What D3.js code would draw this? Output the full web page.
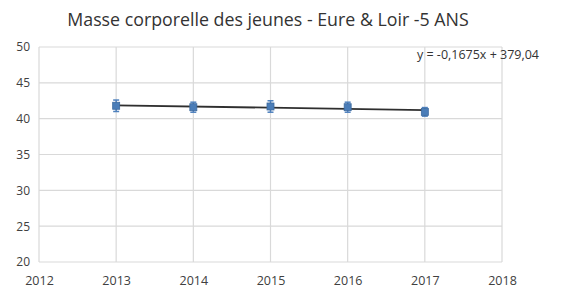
<!DOCTYPE html>
<html>
<head>
<meta charset="utf-8">
<script src="https://cdn.jsdelivr.net/npm/d3@7"></script>
<style>
  body { margin: 0; background: #fff; }
  text { font-family: "Open Sans", "Noto Sans", sans-serif; }
</style>
</head>
<body>
<div id="chart"></div>
<script>
const TITLE = "Masse corporelle des jeunes - Eure & Loir -5 ANS";
const years = [2013, 2014, 2015, 2016, 2017];
const masses = [41.8, 41.6, 41.7, 41.6, 40.95];
const errors = [0.8, 0.7, 0.8, 0.7, 0.6];
const xTicks = [2012, 2013, 2014, 2015, 2016, 2017, 2018];
const yTicks = [20, 25, 30, 35, 40, 45, 50];
const slope = -0.1675;
const intercept = 379.04;
const equation = "y = -0,1675x + 379,04";

const width = 581;
const height = 288;
const margin = { top: 47, right: 79, bottom: 26, left: 39 };

const svg = d3.select("#chart").append("svg")
  .attr("width", width)
  .attr("height", height);

const x = d3.scaleLinear().domain([2012, 2018]).range([margin.left, width - margin.right]);
const y = d3.scaleLinear().domain([20, 50]).range([height - margin.bottom, margin.top]);

svg.append("text")
  .attr("x", 268)
  .attr("y", 26)
  .attr("text-anchor", "middle")
  .style("font-size", "17.8px")
  .attr("fill", "#333")
  .text(TITLE);

// gridlines
svg.append("g")
  .selectAll("line")
  .data(yTicks)
  .join("line")
  .attr("x1", x(2012)).attr("x2", x(2018))
  .attr("y1", d => y(d)).attr("y2", d => y(d))
  .attr("stroke", "#d9d9d9")
  .attr("stroke-width", 1.2);

svg.append("g")
  .selectAll("line")
  .data(xTicks)
  .join("line")
  .attr("x1", d => x(d)).attr("x2", d => x(d))
  .attr("y1", y(20)).attr("y2", y(50))
  .attr("stroke", "#d9d9d9")
  .attr("stroke-width", 1.2);

// axes labels
const yAxis = svg.append("g")
  .attr("transform", `translate(${margin.left - 9},0)`)
  .call(d3.axisLeft(y).tickValues(yTicks).tickSize(0).tickPadding(0));
yAxis.select(".domain").remove();
yAxis.selectAll("text").style("font-size", "12px").attr("fill", "#404040")
  .style("font-family", "'Open Sans', sans-serif");

const xAxis = svg.append("g")
  .attr("transform", `translate(0,${height - margin.bottom + 14})`)
  .call(d3.axisBottom(x).tickValues(xTicks).tickFormat(d3.format("d")).tickSize(0).tickPadding(0));
xAxis.select(".domain").remove();
xAxis.selectAll("text").style("font-size", "12.5px").attr("fill", "#404040")
  .style("font-family", "'Open Sans', sans-serif");

// trend line
svg.append("line")
  .attr("x1", x(years[0]))
  .attr("y1", y(slope * years[0] + intercept))
  .attr("x2", x(years[years.length - 1]))
  .attr("y2", y(slope * years[years.length - 1] + intercept))
  .attr("stroke", "#2f2f2f")
  .attr("stroke-width", 1.8);

// error bars
const pts = svg.append("g")
  .selectAll("g")
  .data(years.map((yr, i) => ({ yr, m: masses[i], e: errors[i] })))
  .join("g");

pts.append("line")
  .attr("x1", d => x(d.yr)).attr("x2", d => x(d.yr))
  .attr("y1", d => y(d.m - d.e)).attr("y2", d => y(d.m + d.e))
  .attr("stroke", "#4f81bd").attr("stroke-width", 1.5);
pts.append("line")
  .attr("x1", d => x(d.yr) - 3).attr("x2", d => x(d.yr) + 3)
  .attr("y1", d => y(d.m + d.e)).attr("y2", d => y(d.m + d.e))
  .attr("stroke", "#4f81bd").attr("stroke-width", 1.5);
pts.append("line")
  .attr("x1", d => x(d.yr) - 3).attr("x2", d => x(d.yr) + 3)
  .attr("y1", d => y(d.m - d.e)).attr("y2", d => y(d.m - d.e))
  .attr("stroke", "#4f81bd").attr("stroke-width", 1.5);
pts.append("rect")
  .attr("x", d => x(d.yr) - 3.5)
  .attr("y", d => y(d.m) - 3.5)
  .attr("width", 7).attr("height", 7)
  .attr("fill", "#4a7db8")
  .attr("stroke", "#3c6a9e")
  .attr("stroke-width", 0.8);

// equation label
svg.append("text")
  .attr("x", 478)
  .attr("y", 59)
  .attr("text-anchor", "middle")
  .style("font-size", "12.5px")
  .attr("fill", "#333")
  .text(equation);
</script>
</body>
</html>
